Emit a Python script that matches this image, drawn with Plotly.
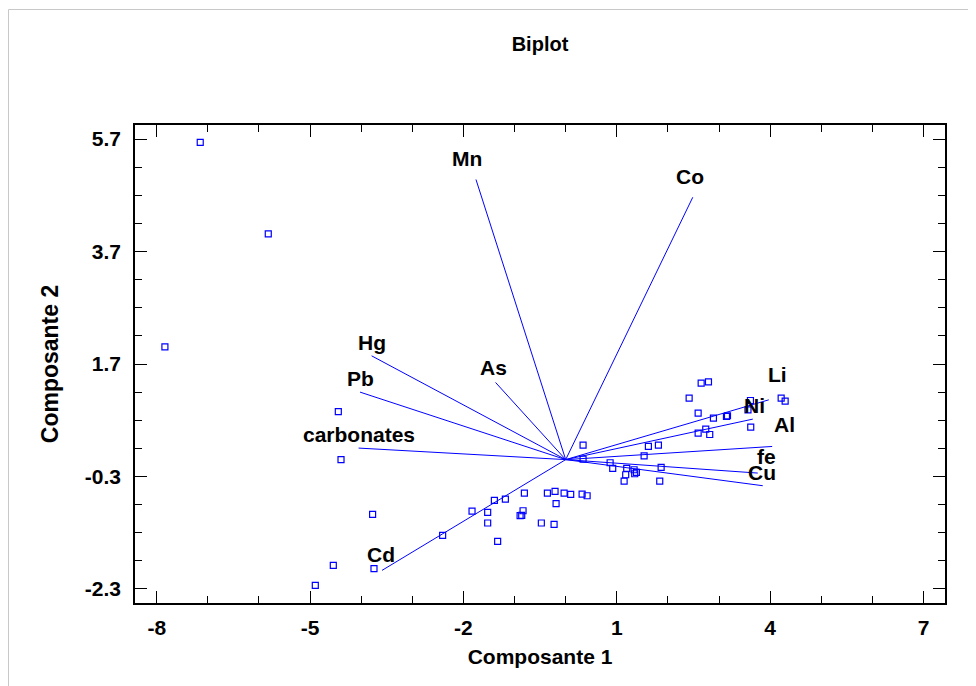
import plotly.graph_objects as go

# ---------------- data ----------------
variables = ["Mn", "Co", "As", "Hg", "Pb", "carbonates", "Cd", "Li", "Ni", "Al", "fe", "Cu"]
load_x = [-1.755, 2.486, -1.372, -3.796, -4.023, -4.051, -3.593, 3.973, 3.660, 4.039, 3.757, 3.855]
load_y = [4.980, 4.664, 1.372, 1.845, 1.200, 0.205, -1.969, 1.063, 0.720, 0.234, -0.239, -0.464]

score_x = [-7.149, -5.818, -7.840, -4.448, -4.395, -3.777, -4.546, -3.750, -4.898,
           -2.407, -1.832, -1.526, -1.526, -1.395, -1.331,
           0.340, 0.340, 0.869, 0.920, -0.808, -0.358, -0.208, -0.031, 0.098, 0.321, 0.419,
           -1.180, -0.188, -0.834, -0.892, -0.860, -0.476, -0.227,
           2.650, 2.793, 2.415, 4.215, 4.293, 3.614, 3.566, 3.620, 2.591, 2.890, 3.145, 3.165,
           2.591, 2.740, 2.818, 1.618, 1.814, 1.534, 1.194, 1.338, 1.383, 1.350, 1.174,
           1.867, 1.143, 1.840]
score_y = [5.641, 4.012, 2.005, 0.855, 0.000, -0.974, -1.880, -1.939, -2.236,
           -1.347, -0.914, -0.939, -1.127, -0.726, -1.454,
           0.258, 0.010, -0.056, -0.157, -0.594, -0.594, -0.566, -0.594, -0.619, -0.612, -0.642,
           -0.701, -0.784, -0.909, -0.997, -0.990, -1.127, -1.152,
           1.360, 1.383, 1.093, 1.093, 1.040, 1.051, 0.886, 0.578, 0.827, 0.738, 0.767, 0.780,
           0.472, 0.543, 0.447, 0.234, 0.258, 0.068, -0.157, -0.180, -0.228, -0.251, -0.269,
           -0.139, -0.381, -0.381]

x_tickvals = [-8, -5, -2, 1, 4, 7]
y_tickvals = [5.7, 3.7, 1.7, -0.3, -2.3]

# ---------------- styles ----------------
FONT = "Liberation Sans, Arial, sans-serif"
BLUE = "#0000FF"
W, H = 968, 678          # page body has an 8px margin
ML, MR, MT, MB = 127, 31, 117, 83
PW, PH = W - ML - MR, H - MT - MB

# label offsets (pixels, dx right, dy up) relative to vector tip
label_shift = {
    "Mn": (-9, 21), "Co": (-3, 21), "As": (-2, 15), "Hg": (0, 13), "Pb": (0, 14),
    "carbonates": (0, 14), "Cd": (-1, 16), "Li": (9, 25), "Ni": (2, 14), "Al": (12, 22),
    "fe": (9, 17), "Cu": (-1, 13),
}

# vectors as one line trace
vx, vy = [], []
for ex, ey in zip(load_x, load_y):
    vx += [0, ex, None]
    vy += [0, ey, None]

fig = go.Figure()
fig.add_trace(go.Scatter(x=vx, y=vy, mode="lines",
                         line=dict(color=BLUE, width=1), hoverinfo="skip", showlegend=False))
fig.add_trace(go.Scatter(x=score_x, y=score_y, mode="markers",
                         marker=dict(symbol="square-open", size=6, color=BLUE,
                                     line=dict(color=BLUE, width=1.2)),
                         showlegend=False))

for name, ex, ey in zip(variables, load_x, load_y):
    dx, dy = label_shift[name]
    fig.add_annotation(x=ex, y=ey, text="<b>%s</b>" % name, showarrow=False,
                       xanchor="center", yanchor="middle", xshift=dx, yshift=dy,
                       font=dict(family=FONT, size=21, color="black"))

axis_common = dict(
    showgrid=False, zeroline=False, showline=True, linecolor="black", linewidth=1.5,
    mirror="ticks", ticks="inside", ticklen=12, tickwidth=1, tickcolor="black",
    tickfont=dict(family=FONT, size=21, color="black", weight="bold"),
)

fig.update_xaxes(range=[-8.425, 7.42], tickvals=x_tickvals, ticktext=[str(v) for v in x_tickvals],
                 minor=dict(dtick=1, tick0=-8, ticks="inside", ticklen=7, tickcolor="black"),
                 ticklabelstandoff=5,
                 title=dict(text="<b>Composante 1</b>", font=dict(family=FONT, size=21, color="black"),
                            standoff=11),
                 **axis_common)
fig.update_yaxes(range=[-2.549, 5.949], tickvals=y_tickvals, ticktext=[str(v) for v in y_tickvals],
                 minor=dict(dtick=0.5, tick0=-0.3, ticks="inside", ticklen=7, tickcolor="black"),
                 ticklabelstandoff=8,
                 title=dict(text="<b>Composante 2</b>", font=dict(family=FONT, size=23, color="black"),
                            standoff=20),
                 **axis_common)

fig.add_shape(type="rect", xref="paper", yref="paper",
              x0=(0.5 - ML) / PW, x1=(W + 20 - ML) / PW,
              y0=(PH + MT - H - 20) / PH, y1=(PH + MT - 1.5) / PH,
              line=dict(color="#C8C8C8", width=1), fillcolor="rgba(0,0,0,0)", layer="below")

fig.update_layout(
    width=W, height=H,
    margin=dict(l=ML, r=MR, t=MT, b=MB),
    paper_bgcolor="white", plot_bgcolor="white",
    title=dict(text="<b>Biplot</b>", x=0.5, xref="paper", xanchor="center",
               y=1 - 36 / H, yref="container", yanchor="middle",
               font=dict(family=FONT, size=20, color="black")),
    font=dict(family=FONT, color="black"),
)

fig.write_html("out.html")
